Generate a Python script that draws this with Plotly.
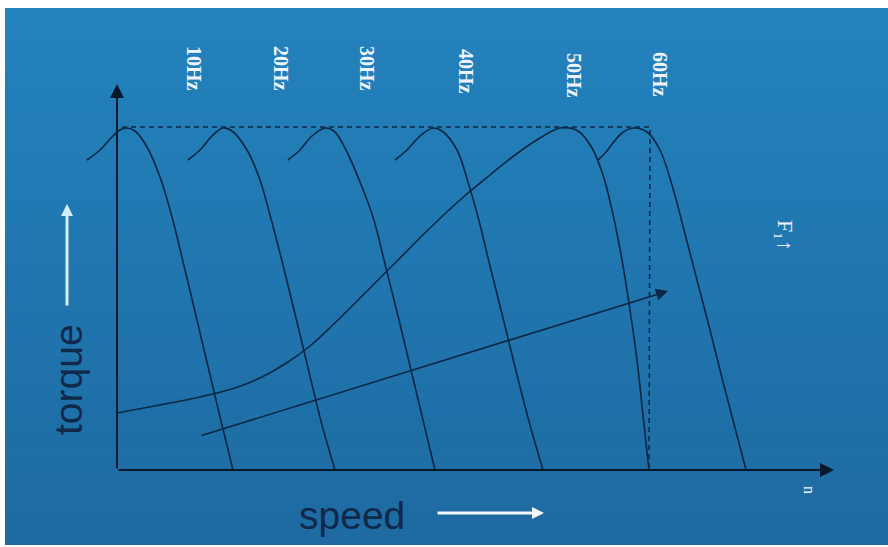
import plotly.graph_objects as go

# Torque-speed characteristics of an induction motor under variable frequency.
# speed: horizontal position along the speed axis, torque: height above it.
freq_labels = ["10Hz", "20Hz", "30Hz", "40Hz", "50Hz", "60Hz"]

speed_10 = [-30, -17, -4, 3, 10, 18, 30, 43, 55, 68, 80, 93, 105, 116]
torque_10 = [310, 320, 334, 340, 342, 339, 323, 293, 253, 200, 150, 95, 45, 0]

speed_20 = [71, 83, 95, 106, 115, 130, 143, 153, 166, 179, 192, 205, 218]
torque_20 = [310, 320, 334, 342, 339, 320, 290, 255, 205, 152, 98, 45, 0]

speed_30 = [171, 183, 195, 208, 217, 229, 243, 256, 269, 282, 294, 306, 318]
torque_30 = [310, 320, 334, 342, 339, 320, 288, 253, 202, 150, 100, 50, 0]

speed_40 = [278, 290, 303, 316, 325, 340, 351, 361, 374, 387, 400, 413, 426]
torque_40 = [310, 320, 334, 342, 339, 320, 288, 253, 200, 148, 95, 45, 0]

speed_50 = [0, 43, 83, 118, 143, 168, 193, 223, 253, 283, 313, 343, 373, 398,
            423, 443, 461, 475, 486, 495, 505, 513, 520, 526, 532]
torque_50 = [57, 65, 73, 82, 92, 106, 124, 152, 182, 212, 242, 270, 295, 315,
             332, 342, 339, 322, 295, 260, 210, 160, 110, 55, 0]

speed_60 = [481, 489, 496, 505, 516, 530, 543, 555, 567, 580, 593, 605, 617, 629]
torque_60 = [310, 318, 327, 337, 342, 338, 320, 285, 240, 190, 140, 92, 46, 0]

# load line (start, end)
load_speed = [83, 551]
load_torque = [34, 179]

# maximum torque level and its rated-speed drop line
max_torque = 343
max_speed = 533

label_speed = [77, 164, 250, 349, 457, 543]
label_torque = [402, 402, 402, 399, 395, 396]

curves = [
    (speed_10, torque_10), (speed_20, torque_20), (speed_30, torque_30),
    (speed_40, torque_40), (speed_50, torque_50), (speed_60, torque_60),
]

LINE = "#0c2744"
INK = "#10294a"
WHITE = "#eef4fa"

fig = go.Figure()

for sp, tq in curves:
    fig.add_trace(go.Scatter(
        x=sp, y=tq, mode="lines",
        line=dict(color=LINE, width=1.6, shape="spline", smoothing=1.0),
        hoverinfo="skip", showlegend=False,
    ))

# dashed max-torque guides
fig.add_trace(go.Scatter(
    x=[5, max_speed, max_speed - 1], y=[max_torque, max_torque, 0],
    mode="lines", line=dict(color=LINE, width=1.6, dash="5px,4px"),
    hoverinfo="skip", showlegend=False,
))

# background gradient: stacked bands, each reaching to the bottom edge
W, H = 888, 547
x0p, y0p, y1p = 5, 8, 545
top = (35, 130, 189)
bot = (30, 106, 161)
n_bands = 80
shapes = []
for i in range(n_bands):
    f = i / (n_bands - 1)
    c = tuple(round(top[k] + (bot[k] - top[k]) * f) for k in range(3))
    ya = y0p + (y1p - y0p) * i / n_bands
    shapes.append(dict(
        type="rect", xref="paper", yref="paper", layer="below",
        x0=x0p / W, x1=1, y0=1 - y1p / H, y1=1 - ya / H,
        fillcolor="rgb(%d,%d,%d)" % c, line=dict(width=0),
    ))

annotations = []


def arrow(x, y, ax, ay, color, width, size, head=2):
    annotations.append(dict(
        x=x, y=y, ax=ax, ay=ay, xref="x", yref="y", axref="x", ayref="y",
        text="", showarrow=True, arrowhead=head, arrowsize=size,
        arrowwidth=width, arrowcolor=color, standoff=0,
    ))


# coordinate axes
arrow(0, 386, 0, 0, "#08182c", 2, 1.4)
arrow(717, 0, 0, 0, "#08182c", 2, 1.4)
# load line
arrow(load_speed[1], load_torque[1], load_speed[0], load_torque[0], LINE, 1.6, 1.5)
# axis title arrows
arrow(-50, 266, -50, 163, "#d6eefc", 3, 0.8)
arrow(427, -43, 319, -43, "#f4f8fc", 3, 0.8)

for txt, sx, ty in zip(freq_labels, label_speed, label_torque):
    annotations.append(dict(
        x=sx, y=ty, xref="x", yref="y", text="<b>%s</b>" % txt, showarrow=False,
        textangle=90, font=dict(family="Liberation Serif", size=20, color=WHITE),
    ))

annotations.append(dict(
    x=669, y=235, xref="x", yref="y", text="F₁↑", showarrow=False,
    textangle=90, font=dict(family="Liberation Serif", size=22, color=WHITE),
))
annotations.append(dict(
    x=693, y=-20, xref="x", yref="y", text="n", showarrow=False,
    textangle=90, font=dict(family="Liberation Serif", size=16, color=WHITE),
))
annotations.append(dict(
    x=-49, y=90, xref="x", yref="y", text="torque", showarrow=False,
    textangle=-90, font=dict(family="Liberation Sans", size=39, color=INK),
))
annotations.append(dict(
    x=235, y=-45, xref="x", yref="y", text="speed", showarrow=False,
    font=dict(family="Liberation Sans", size=39, color=INK),
))

fig.update_layout(
    width=W, height=H,
    margin=dict(l=0, r=0, t=0, b=0),
    paper_bgcolor="white", plot_bgcolor="rgba(0,0,0,0)",
    xaxis=dict(range=[-117, 771], visible=False, fixedrange=True),
    yaxis=dict(range=[-77, 470], visible=False, fixedrange=True),
    shapes=shapes, annotations=annotations, showlegend=False,
)

fig.write_html("out.html")
